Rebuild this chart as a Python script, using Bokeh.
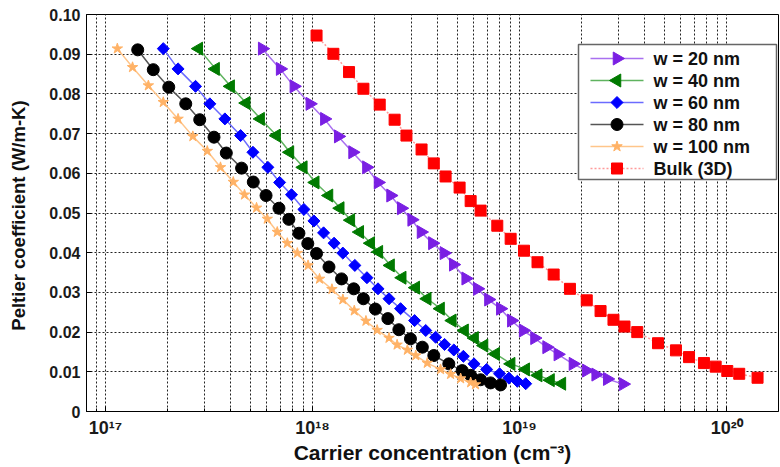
import math
from bokeh.plotting import figure
from bokeh.models import (FixedTicker, CustomJSTickFormatter, ColumnDataSource, Range1d, LinearScale)
from bokeh.core.properties import value
from bokeh.embed import file_html
from bokeh.resources import INLINE

# ---- data ----
w20_n = [5.71e17, 6.97e17, 8.12e17, 9.70e17, 1.14e18, 1.33e18, 1.56e18, 1.82e18, 2.07e18, 2.38e18,
         2.68e18, 3.01e18, 3.34e18, 3.79e18, 4.31e18, 4.78e18, 5.49e18, 6.25e18, 7.07e18, 8.07e18,
         9.12e18, 1.04e19, 1.18e19, 1.35e19, 1.53e19, 1.81e19, 2.10e19, 2.33e19, 2.65e19, 3.16e19]
w20_p = [0.0914, 0.0863, 0.0819, 0.0775, 0.0737, 0.0693, 0.0653, 0.0615, 0.0577, 0.0544,
         0.0512, 0.0483, 0.0452, 0.0424, 0.0399, 0.0370, 0.0335, 0.0309, 0.0282, 0.0259,
         0.0229, 0.0204, 0.0185, 0.0162, 0.0144, 0.0120, 0.0103, 0.0093, 0.0082, 0.0069]

w40_n = [2.82e17, 3.40e17, 4.02e17, 4.78e17, 5.61e17, 6.70e17, 7.77e17, 9.02e17, 1.03e18, 1.20e18,
         1.36e18, 1.53e18, 1.69e18, 1.91e18, 2.09e18, 2.38e18, 2.71e18, 3.15e18, 3.58e18, 4.15e18,
         4.73e18, 5.42e18, 6.06e18, 6.73e18, 7.66e18, 9.10e18, 1.07e19, 1.23e19, 1.41e19, 1.60e19]
w40_p = [0.0914, 0.0863, 0.0819, 0.0777, 0.0737, 0.0695, 0.0653, 0.0615, 0.0577, 0.0544,
         0.0512, 0.0482, 0.0452, 0.0424, 0.0402, 0.0368, 0.0337, 0.0312, 0.0284, 0.0259,
         0.0229, 0.0204, 0.0185, 0.0166, 0.0145, 0.0120, 0.0106, 0.0091, 0.0079, 0.0070]

w60_n = [1.90e17, 2.24e17, 2.72e17, 3.19e17, 3.77e17, 4.49e17, 5.15e17, 6.08e17, 6.93e17, 7.91e17,
         9.08e17, 1.015e18, 1.13e18, 1.27e18, 1.40e18, 1.60e18, 1.83e18, 2.07e18, 2.34e18, 2.66e18,
         3.11e18, 3.52e18, 3.93e18, 4.34e18, 4.81e18, 5.35e18, 6.02e18, 6.93e18, 8.00e18, 8.88e18,
         9.75e18, 1.07e19]
w60_p = [0.0914, 0.0863, 0.0819, 0.0775, 0.0737, 0.0695, 0.0653, 0.0615, 0.0577, 0.0546,
         0.0509, 0.0480, 0.0450, 0.0424, 0.0399, 0.0368, 0.0337, 0.0309, 0.0284, 0.0259,
         0.0229, 0.0204, 0.0187, 0.0169, 0.0155, 0.0139, 0.0120, 0.0106, 0.0095, 0.0084,
         0.0076, 0.0070]

w80_n = [1.43e17, 1.70e17, 2.02e17, 2.44e17, 2.85e17, 3.34e17, 3.83e17, 4.54e17, 5.17e17, 5.96e17,
         6.88e17, 7.68e17, 8.59e17, 9.48e17, 1.045e18, 1.20e18, 1.38e18, 1.58e18, 1.76e18, 2.01e18,
         2.31e18, 2.61e18, 2.97e18, 3.39e18, 3.85e18, 4.55e18, 5.28e18, 5.80e18, 6.48e18, 7.24e18,
         8.09e18]
w80_p = [0.0911, 0.0861, 0.0817, 0.0775, 0.0735, 0.0691, 0.0651, 0.0613, 0.0578, 0.0544,
         0.0512, 0.0484, 0.0449, 0.0423, 0.0398, 0.0364, 0.0334, 0.0309, 0.0284, 0.0258,
         0.0234, 0.0206, 0.0183, 0.0162, 0.0141, 0.0120, 0.0103, 0.0091, 0.0080, 0.0072,
         0.0067]

w100_n = [1.14e17, 1.35e17, 1.61e17, 1.90e17, 2.24e17, 2.64e17, 3.10e17, 3.59e17, 4.14e17, 4.69e17,
          5.36e17, 6.04e17, 6.75e17, 7.55e17, 8.44e17, 9.51e17, 1.08e18, 1.24e18, 1.40e18, 1.59e18,
          1.81e18, 2.05e18, 2.34e18, 2.56e18, 2.87e18, 3.15e18, 3.58e18, 4.15e18, 4.64e18, 5.19e18,
          5.80e18, 6.12e18]
w100_p = [0.0914, 0.0867, 0.0821, 0.0779, 0.0737, 0.0693, 0.0656, 0.0615, 0.0578, 0.0546,
          0.0513, 0.0485, 0.0452, 0.0424, 0.0399, 0.0368, 0.0334, 0.0308, 0.0282, 0.0254,
          0.0228, 0.0205, 0.0185, 0.0168, 0.0155, 0.0141, 0.0122, 0.0106, 0.0094, 0.0083,
          0.0073, 0.0068]

bulk_n = [1.045e18, 1.26e18, 1.50e18, 1.76e18, 2.11e18, 2.49e18, 2.84e18, 3.36e18, 3.85e18, 4.39e18,
          5.13e18, 5.80e18, 6.48e18, 7.80e18, 9.05e18, 1.05e19, 1.22e19, 1.46e19, 1.75e19, 2.11e19,
          2.46e19, 2.84e19, 3.21e19, 3.70e19, 4.66e19, 5.69e19, 6.58e19, 7.77e19, 8.85e19, 1.007e20,
          1.15e20, 1.41e20]
bulk_p = [0.0947, 0.0901, 0.0855, 0.0813, 0.0773, 0.0735, 0.0695, 0.0660, 0.0625, 0.0592,
          0.0564, 0.0530, 0.0506, 0.0468, 0.0435, 0.0405, 0.0376, 0.0345, 0.0309, 0.0280,
          0.0253, 0.0231, 0.0214, 0.0200, 0.0172, 0.0154, 0.0137, 0.0122, 0.0113, 0.0102,
          0.0095, 0.0085]

labels = ["w = 20 nm", "w = 40 nm", "w = 60 nm", "w = 80 nm", "w = 100 nm", "Bulk (3D)"]
y_ticks = [0.0, 0.01, 0.02, 0.03, 0.04, 0.05, 0.06, 0.07, 0.08, 0.09, 0.10]
y_tick_labels = ["0", "0.01", "0.02", "0.03", "0.04", "0.05", "0.06", "0.07", "0.08", "0.09", "0.10"]
x_decades = [17, 18, 19, 20]
x_title = "Carrier concentration (cm\u207b\u00b3)"
y_title = "Peltier coefficient  (W/m-K)"

FONT = "Liberation Sans"

# ---- layout constants (pixels) ----
W, H = 780, 467
BL, BR, BT, BB = 86, 2, 14, 56
FW, FH = W - BL - BR, H - BT - BB

p = figure(width=W, height=H, x_axis_type="log",
           x_range=(8.09e16, 1.78e20), y_range=(0, 0.1),
           output_backend="svg", toolbar_location=None,
           min_border_left=BL, min_border_right=BR, min_border_top=BT, min_border_bottom=BB)
# linear pixel ranges of the plotting frame, used only to place the legend box
p.extra_x_ranges = {"px": Range1d(0, FW)}
p.extra_y_ranges = {"px": Range1d(0, FH)}
p.extra_x_scales = {"px": LinearScale()}
p.extra_y_scales = {"px": LinearScale()}

p.outline_line_color = "#000000"
p.outline_line_width = 1
p.background_fill_color = "white"
p.border_fill_color = "white"

# ticks
major_x = [10.0 ** d for d in x_decades]
minor_x = [k * 10.0 ** d for d in [16, 17, 18, 19, 20] for k in range(2, 10)]
p.xaxis.ticker = FixedTicker(ticks=major_x, minor_ticks=minor_x)
p.yaxis.ticker = FixedTicker(ticks=y_ticks, minor_ticks=[])
p.yaxis.major_label_overrides = {t: s for t, s in zip(y_ticks, y_tick_labels)}

p.xaxis.formatter = CustomJSTickFormatter(code="""
const sup = {'0':'\u2070','1':'\u00b9','2':'\u00b2','3':'\u00b3','4':'\u2074','5':'\u2075',
             '6':'\u2076','7':'\u2077','8':'\u2078','9':'\u2079','-':'\u207b'};
const e = Math.round(Math.log10(tick));
return '10' + String(e).split('').map(c => sup[c]).join('');
""")

for ax in (p.xaxis, p.yaxis):
    ax.major_tick_in = 5
    ax.major_tick_out = 0
    ax.minor_tick_in = 3
    ax.minor_tick_out = 0
    ax.axis_line_color = "black"
    ax.major_tick_line_color = "black"
    ax.minor_tick_line_color = "black"
    ax.major_label_text_font = FONT
    ax.major_label_text_font_style = "bold"
    ax.major_label_text_color = "#1a1a1a"
    ax.axis_label_text_font = FONT
    ax.axis_label_text_font_style = "bold"
    ax.axis_label_text_color = "#111111"

p.yaxis.major_label_text_font_size = "16px"
p.yaxis.major_label_standoff = 6
p.yaxis.axis_label = y_title
p.yaxis.axis_label_text_font_size = "18.5px"
p.yaxis.axis_label_standoff = 17

p.xaxis.major_label_text_font_size = "18px"
p.xaxis.major_label_standoff = 6
p.xaxis.axis_label = x_title
p.xaxis.axis_label_text_font_size = "21px"
p.xaxis.axis_label_standoff = 0

# grid
for g in (p.xgrid, p.ygrid):
    g.grid_line_color = "#222222"
    g.grid_line_dash = "2 2"
    g.grid_line_width = 1
p.xgrid.minor_grid_line_color = "#222222"
p.xgrid.minor_grid_line_dash = "2 2"
p.xgrid.minor_grid_line_width = 1

series = [
    (w20_n, w20_p, "triangle", -math.pi / 2, 13, "#7a1fe3", "#a970f0", "solid"),
    (w40_n, w40_p, "triangle", math.pi / 2, 13, "#007a00", "#5fb35f", "solid"),
    (w60_n, w60_p, "square", math.pi / 4, 8.5, "#0000ff", "#6b6bff", "solid"),
    (w80_n, w80_p, "circle", 0.0, 12, "#000000", "#555555", "solid"),
    (w100_n, w100_p, "star", 0.0, 11, "#ffb266", "#ffc58a", "solid"),
    (bulk_n, bulk_p, "square", 0.0, 11, "#ff0000", "#ff9a9a", "2 2"),
]

for xs, ys, mk, ang, sz, mc, lc, dash in series:
    src = ColumnDataSource(dict(x=xs, y=ys))
    p.line("x", "y", source=src, line_color=lc, line_width=1.5, line_dash=dash)
    p.scatter("x", "y", source=src, marker=mk, angle=ang, size=sz,
              fill_color=mc, line_color=mc)

# ---- legend (frame pixel coordinates) ----
LX0, LX1, LY0, LY1 = 492, 690, 232, 367   # box
ROW0, ROWSTEP = 353, 22                   # first row centre, row spacing
KX0, KX1, TX = 504, 557, 567              # key line ends, text start

p.quad(left=[LX0], right=[LX1], bottom=[LY0], top=[LY1], x_range_name="px", y_range_name="px",
       fill_color="white", line_color="#666666", line_width=1.5, level="overlay")
for i, ((xs, ys, mk, ang, sz, mc, lc, dash), lab) in enumerate(zip(series, labels)):
    ry = ROW0 - ROWSTEP * i
    p.segment(x0=[KX0], y0=[ry], x1=[KX1], y1=[ry], x_range_name="px", y_range_name="px",
              line_color=lc, line_width=1.5, line_dash=dash, level="overlay")
    p.scatter(x=[(KX0 + KX1) / 2], y=[ry], x_range_name="px", y_range_name="px",
              marker=mk, angle=ang, size=sz, fill_color=mc, line_color=mc, level="overlay")
    p.text(x=[TX], y=[ry], text=[lab], x_range_name="px", y_range_name="px",
           text_font=value(FONT), text_font_style="bold", text_font_size="18px",
           text_color="#111111", text_baseline="middle", text_align="left", level="overlay")

open("out.html", "w").write(file_html(p, INLINE))
